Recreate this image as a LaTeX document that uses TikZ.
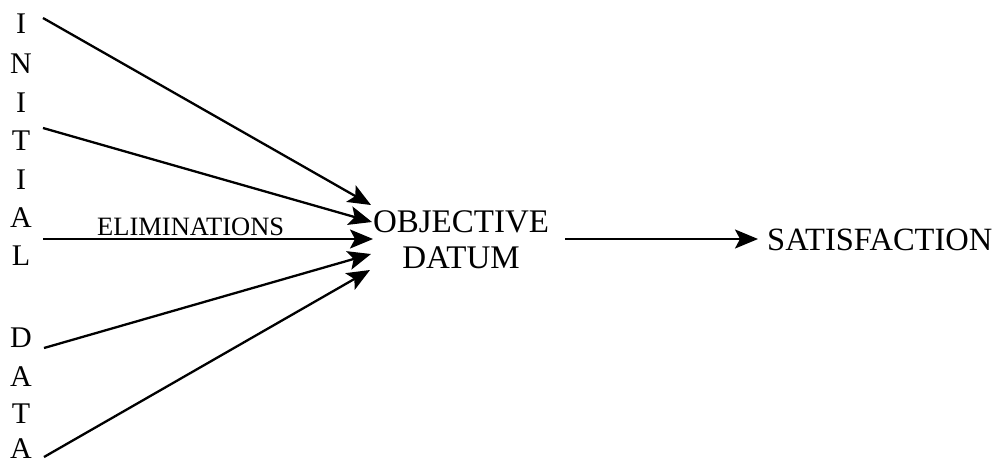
\documentclass[tikz,border=0pt]{standalone}
\usepackage{fontspec}
\setmainfont{Liberation Serif}
\usetikzlibrary{arrows.meta}
\begin{document}
\begin{tikzpicture}[x=1pt,y=-1pt,
  letter/.style={inner sep=0pt,font=\fontsize{30}{30}\selectfont},
  bigtext/.style={inner sep=0pt,align=center,font=\fontsize{33}{36}\selectfont},
  arr/.style={line width=2.3pt,-{Stealth[length=23pt,width=19pt,inset=5pt]}}]
\useasboundingbox (0,0) rectangle (995,459);
% vertical letters
\node[letter] (l1) at (21,24) {I};
\node[letter] (l2) at (21,64) {N};
\node[letter] (l3) at (21,103) {I};
\node[letter] (l4) at (21,141) {T};
\node[letter] (l5) at (21,180) {I};
\node[letter] (l6) at (21,218) {A};
\node[letter] (l7) at (21,256) {L};
\node[letter] (l8) at (21,338) {D};
\node[letter] (l9) at (21,377) {A};
\node[letter] (l10) at (21,414) {T};
\node[letter] (l11) at (21,449) {A};
% start and end points
\coordinate (s1) at (43,18);
\coordinate (s2) at (43,128);
\coordinate (s3) at (43,239);
\coordinate (s4) at (44,348);
\coordinate (s5) at (44,457);
\coordinate (t1) at (371,205);
\coordinate (t2) at (372,222);
\coordinate (t3) at (373,239);
\coordinate (t4) at (371,254);
\coordinate (t5) at (370,270);
% texts
\node[bigtext] (obj) at (461,240) {OBJECTIVE\\DATUM};
\node[bigtext,anchor=west,font=\fontsize{32.5}{36}\selectfont] (sat) at (767,240) {SATISFACTION};
\node[inner sep=0pt,font=\fontsize{26.5}{26.5}\selectfont,anchor=south west] (elim) at (97,235.5) {ELIMINATIONS};
\coordinate (o1) at (565,239);
\coordinate (o2) at (758,239);
% arrows
\draw[arr] (s1) -- (t1);
\draw[arr] (s2) -- (t2);
\draw[arr] (s3) -- (t3);
\draw[arr] (s4) -- (t4);
\draw[arr] (s5) -- (t5);
\draw[arr] (o1) -- (o2);
\end{tikzpicture}
\end{document}
